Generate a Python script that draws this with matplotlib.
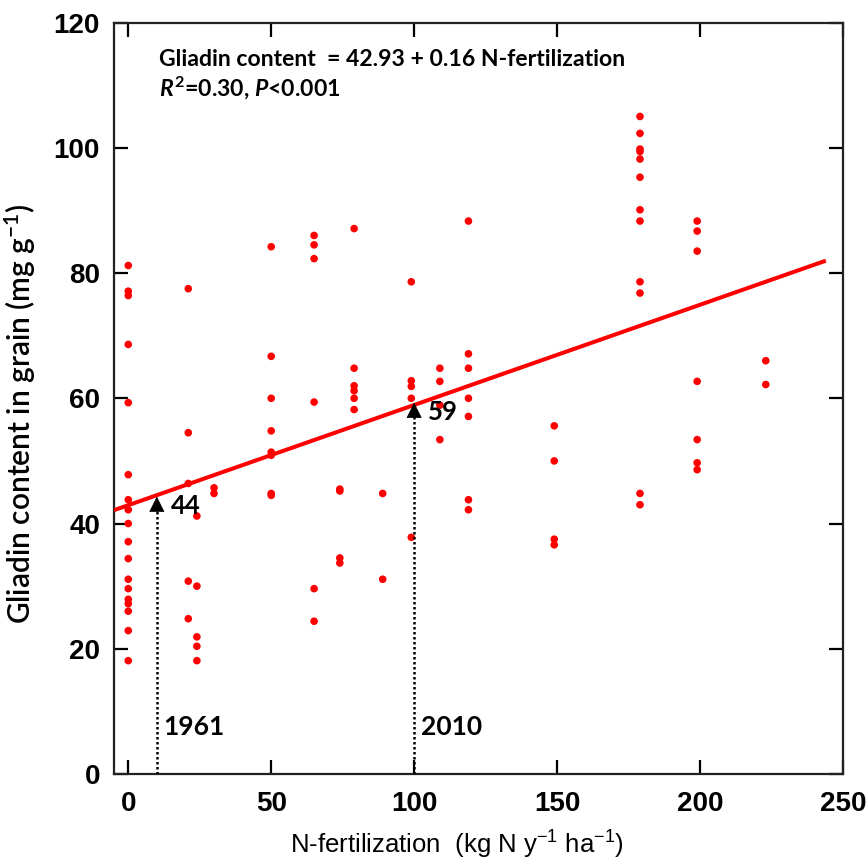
import matplotlib
matplotlib.use("Agg")
import matplotlib.pyplot as plt
import numpy as np

# ---- data ----
x_levels = [0, 21, 24, 30, 50, 65, 74, 79, 89, 99, 109, 119, 149, 179, 199, 223]
y_0 = [81.2, 77.1, 76.4, 68.6, 59.3, 47.8, 43.8, 42.2, 40.0, 37.1, 34.4, 31.1, 29.6, 27.9, 27.2, 26.0, 22.9, 18.1]
y_21 = [77.5, 54.5, 46.4, 30.8, 24.8]
y_24 = [41.2, 30.0, 21.9, 20.4, 18.1]
y_30 = [45.7, 44.8]
y_50 = [84.2, 66.7, 60.0, 54.8, 51.4, 50.9, 44.8, 44.5]
y_65 = [86.0, 84.5, 82.3, 59.4, 29.6, 24.4]
y_74 = [45.5, 45.2, 34.5, 33.7]
y_79 = [87.1, 64.8, 62.0, 61.2, 60.0, 58.2]
y_89 = [44.8, 31.1]
y_99 = [78.6, 62.8, 61.9, 60.0, 37.8]
y_109 = [64.8, 62.7, 58.9, 53.4]
y_119 = [88.3, 67.1, 64.8, 60.0, 57.1, 43.8, 42.2]
y_149 = [55.6, 50.0, 37.5, 36.6]
y_179 = [105.0, 102.3, 99.8, 99.4, 98.2, 95.3, 90.1, 88.3, 78.6, 76.8, 44.8, 43.0]
y_199 = [88.3, 86.7, 83.5, 62.7, 53.4, 49.7, 48.6]
y_223 = [66.0, 62.2]
y_groups = [y_0, y_21, y_24, y_30, y_50, y_65, y_74, y_79, y_89, y_99,
            y_109, y_119, y_149, y_179, y_199, y_223]

intercept = 42.93
slope = 0.16
fit_range = [-5, 244]

arrow_x = [10, 100]
arrow_y = [44, 59]
arrow_val_labels = ["44", "59"]
year_labels = ["1961", "2010"]

x_ticks = [0, 50, 100, 150, 200, 250]
y_ticks = [0, 20, 40, 60, 80, 100, 120]

# ---- style ----
plt.rcParams['mathtext.fontset'] = 'custom'
plt.rcParams['mathtext.it'] = 'Lato:italic:bold'
plt.rcParams['mathtext.default'] = 'regular'

fig = plt.figure(figsize=(8.66, 8.63), dpi=100)
ax = fig.add_axes([0.1316, 0.1031, 0.8418, 0.8708])

xs = []
ys = []
for xv, grp in zip(x_levels, y_groups):
    xs.extend([xv] * len(grp))
    ys.extend(grp)

ax.scatter(xs, ys, s=30, color='#ff0000', edgecolors='none', zorder=3)

xf = np.array(fit_range, dtype=float)
ax.plot(xf, intercept + slope * xf, color='#ff0000', lw=2.9, zorder=4,
        solid_capstyle='butt')

# dotted arrows
for xa, ya, vl, yl in zip(arrow_x, arrow_y, arrow_val_labels, year_labels):
    ax.plot([xa, xa], [0, ya - 1.2], color='black', lw=1.8,
            linestyle=(0, (1, 1)), zorder=5)
    ax.annotate('', xy=(xa, ya + 0.3), xytext=(xa, ya - 1.6),
                arrowprops=dict(arrowstyle='-|>,head_length=0.6,head_width=0.3',
                                mutation_scale=17, lw=0.5, color='black',
                                shrinkA=0, shrinkB=0),
                zorder=6)
    ax.text(xa + 4.8, ya - 1.2, vl, fontsize=18.5, family='Lato',
            fontweight='bold', va='center', ha='left', zorder=6)
    ax.text(xa + 2.3, 7.5, yl, fontsize=19, family='Lato',
            fontweight='bold', va='center', ha='left', zorder=6)

# equation text
ax.text(10.6, 113.0, 'Gliadin content  = 42.93 + 0.16 N-fertilization',
        fontsize=16.6, family='Lato', fontweight='bold', va='baseline', ha='left')
ax.text(10.6, 108.3, r'$\mathit{R}^{2}$=0.30, $\mathit{P}$<0.001',
        fontsize=16.6, family='Lato', fontweight='bold', va='baseline', ha='left')

ax.set_xlim(-5, 250)
ax.set_ylim(0, 120)
ax.set_xticks(x_ticks)
ax.set_yticks(y_ticks)
ax.set_xticklabels([str(t) for t in x_ticks], fontsize=20, fontweight='bold',
                   family='Liberation Sans')
ax.set_yticklabels([str(t) for t in y_ticks], fontsize=20, fontweight='bold',
                   family='Liberation Sans')
ax.tick_params(axis='both', which='major', direction='in', length=10, width=1.6,
               top=True, right=True, color='black')
ax.tick_params(axis='x', pad=12)
ax.tick_params(axis='y', pad=10)
for sp in ax.spines.values():
    sp.set_linewidth(1.6)
    sp.set_color('#222222')

ax.set_xlabel(r'N-fertilization  (kg N y$^{-1}$ ha$^{-1}$)', fontsize=18.5,
              family='Liberation Sans')
ax.xaxis.set_label_coords(0.471, -0.0945)
ax.set_ylabel(r'Gliadin content in grain (mg g$^{-1}$)', fontsize=21.5,
              family='Lato', fontweight='semibold')
ax.yaxis.set_label_coords(-0.128, 0.479)
ax.xaxis.label.set_va('center')
ax.yaxis.label.set_va('center')

fig.savefig('out.png', dpi=100)
